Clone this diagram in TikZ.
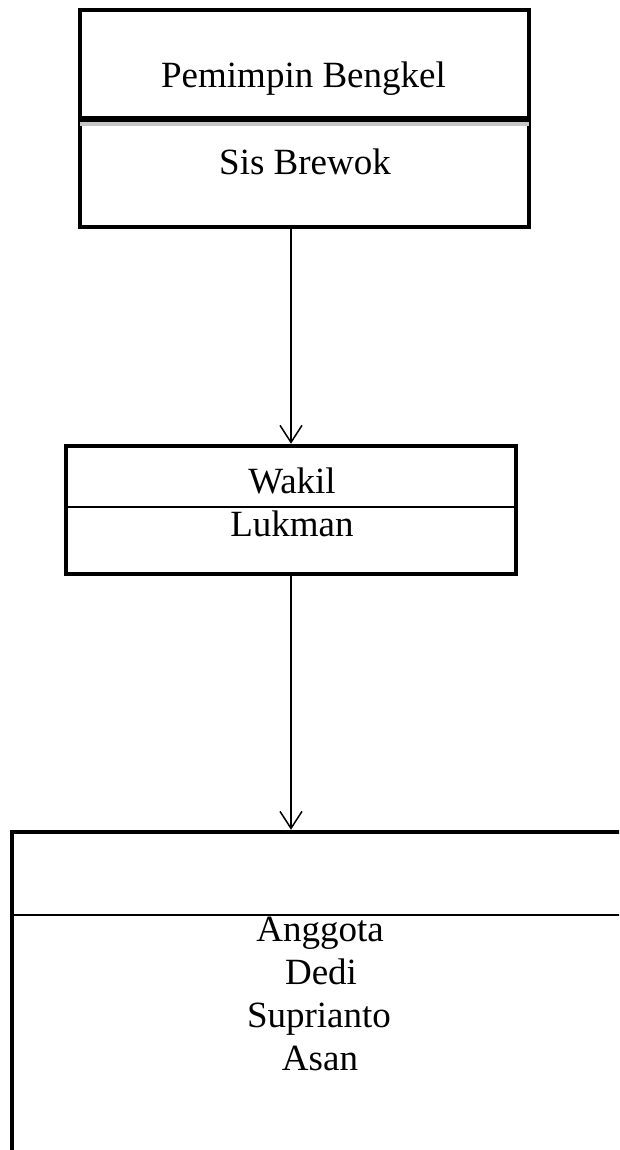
\documentclass[tikz,border=0pt]{standalone}
\usepackage{fontspec}
\setmainfont{Liberation Serif}
\usetikzlibrary{arrows.meta}
\begin{document}
\begin{tikzpicture}[x=1pt,y=-1pt,
  boxframe/.style={draw=black, line width=4.5pt, inner sep=0pt, fill=none},
  label/.style={font=\fontsize{37}{43}\selectfont, anchor=base, inner sep=0pt},
  thinrule/.style={line width=1.4pt},
  arr/.style={line width=1.5pt, -{Straight Barb[length=17pt,width=22pt,line width=1.5pt]}}]
\useasboundingbox (0,0) rectangle (619,1150);
\clip (0,0) rectangle (619,1150);
% boxes
\node[boxframe, minimum width=449pt, minimum height=217pt] (top) at (304.5,118.5) {};
\node[boxframe, minimum width=450pt, minimum height=128pt] (mid) at (291,510) {};
\node[boxframe, minimum width=700pt, minimum height=400pt] (bot) at (362,1032) {};
% dividers
\draw[gray!45, line width=4pt] ([xshift=2pt]top.west |- 0,124.5) -- ([xshift=-2pt]top.east |- 0,124.5);
\draw[line width=6.5pt] (top.west |- 0,119) -- (top.east |- 0,119);
\draw[thinrule] (mid.west |- 0,507) -- (mid.east |- 0,507);
\draw[thinrule] (bot.west |- 0,915) -- (bot.east |- 0,915);
% texts
\node[label] (t1) at (303.5,88) {Pemimpin Bengkel};
\node[label] (t2) at (305,175) {Sis Brewok};
\node[label] (m1) at (292,493) {Wakil};
\node[label] (m2) at (292,536) {Lukman};
\node[label] (b1) at (320,941) {Anggota};
\node[label] (b2) at (321,984) {Dedi};
\node[label] (b3) at (319,1027) {Suprianto};
\node[label] (b4) at (320,1070) {Asan};
% connectors
\draw[arr] (top.south -| mid.north) -- (mid.north);
\draw[arr] (mid.south) -- (mid.south |- bot.north);
\end{tikzpicture}
\end{document}
